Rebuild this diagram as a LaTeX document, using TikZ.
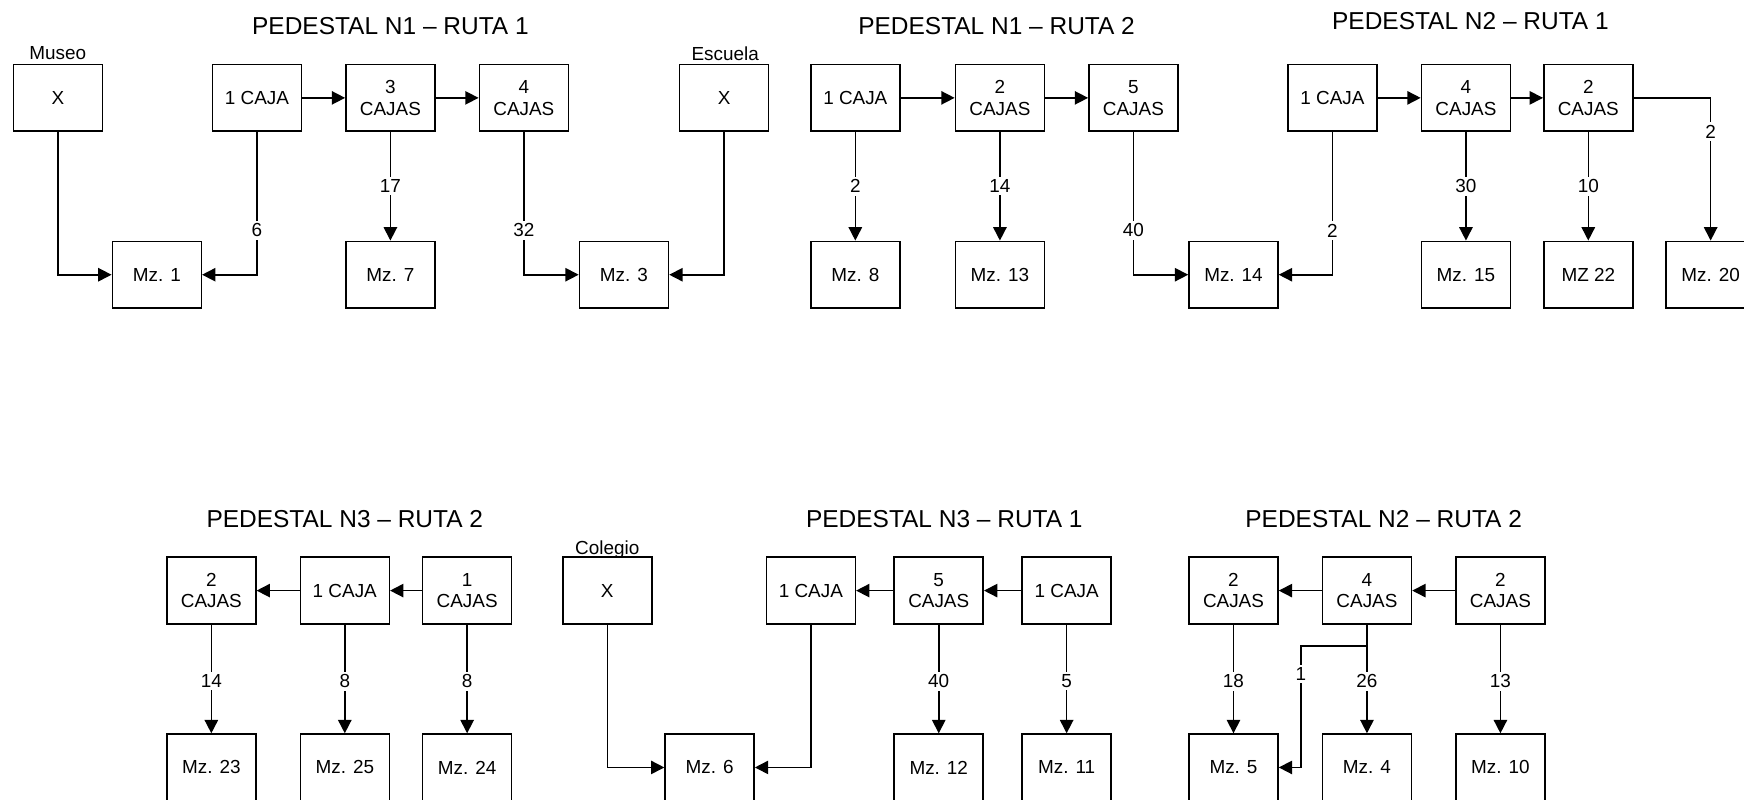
\documentclass[tikz,border=0pt]{standalone}
\usepackage{fontspec}
\setmainfont{Liberation Sans}
\usetikzlibrary{arrows.meta}
\begin{document}
\begin{tikzpicture}[x=0.5pt,y=0.5pt,
  caja/.style={draw=drawColor,line width=0.7pt,minimum width=40pt,minimum height=30pt,inner sep=0pt,align=center,font=\fontsize{8.5}{9.75}\selectfont},
  flecha/.style={draw=drawColor,line width=0.7pt,line join=miter,-{Triangle[length=6pt,width=6pt]}},
  cifra/.style={fill=white,inner sep=1.2pt,font=\fontsize{8.5}{9.75}\selectfont},
  lugar/.style={inner sep=0pt,text depth=0pt,font=\fontsize{8.5}{9.75}\selectfont},
  titulo/.style={inner sep=0pt,text depth=0pt,font=\fontsize{11}{13}\selectfont}]
\definecolor{fillColor}{RGB}{255,255,255}
\definecolor{drawColor}{RGB}{0,0,0}
\path[use as bounding box,fill=fillColor] (0,0) rectangle (1568,718.4);
\clip (0,0) rectangle (1568,718.4);

\node[titulo] (t1) at ( 351,695.5) {PEDESTAL N1 – RUTA 1};

\node[titulo] (t2) at ( 896,695.5) {PEDESTAL N1 – RUTA 2};

\node[titulo] (t3) at (1322,699.7) {PEDESTAL N2 – RUTA 1};

\node[titulo] (t4) at ( 310,251.9) {PEDESTAL N3 – RUTA 2};

\node[titulo] (t5) at ( 849,251.9) {PEDESTAL N3 – RUTA 1};

\node[titulo] (t6) at (1244,251.9) {PEDESTAL N2 – RUTA 2};

\node[lugar] (lmuseo) at (  52,670.4) {Museo};

\node[lugar] (lescuela) at ( 652,670.4) {Escuela};

\node[lugar] (lcolegio) at ( 546,225.8) {Colegio};

\node[caja] (museo) at (  52,630.4) {X};

\node[caja] (n1r1a) at ( 231,630.4) {1 CAJA};

\node[caja] (n1r1b) at ( 351,630.4) {3\\CAJAS};

\node[caja] (n1r1c) at ( 471,630.4) {4\\CAJAS};

\node[caja] (escuela) at ( 651,630.4) {X};

\node[caja] (n1r2a) at ( 769,630.4) {1 CAJA};

\node[caja] (n1r2b) at ( 899,630.4) {2\\CAJAS};

\node[caja] (n1r2c) at (1019,630.4) {5\\CAJAS};

\node[caja] (n2r1a) at (1198,630.4) {1 CAJA};

\node[caja] (n2r1b) at (1318,630.4) {4\\CAJAS};

\node[caja] (n2r1c) at (1428,630.4) {2\\CAJAS};

\node[caja] (mz1) at ( 141,471.4) {Mz. 1};

\node[caja] (mz7) at ( 351,471.4) {Mz. 7};

\node[caja] (mz3) at ( 561,471.4) {Mz. 3};

\node[caja] (mz8) at ( 769,471.4) {Mz. 8};

\node[caja] (mz13) at ( 899,471.4) {Mz. 13};

\node[caja] (mz14) at (1109,471.4) {Mz. 14};

\node[caja] (mz15) at (1318,471.4) {Mz. 15};

\node[caja] (mz22) at (1428,471.4) {MZ 22};

\node[caja] (mz20) at (1538,471.4) {Mz. 20};

\node[caja] (n3r2a) at ( 190,187.4) {2\\CAJAS};

\node[caja] (n3r2b) at ( 310,187.4) {1 CAJA};

\node[caja] (n3r2c) at ( 420,187.4) {1\\CAJAS};

\node[caja] (colegio) at ( 546,187.4) {X};

\node[caja] (n3r1a) at ( 729,187.4) {1 CAJA};

\node[caja] (n3r1b) at ( 844,187.4) {5\\CAJAS};

\node[caja] (n3r1c) at ( 959,187.4) {1 CAJA};

\node[caja] (n2r2a) at (1109,187.4) {2\\CAJAS};

\node[caja] (n2r2b) at (1229,187.4) {4\\CAJAS};

\node[caja] (n2r2c) at (1349,187.4) {2\\CAJAS};

\node[caja] (mz23) at ( 190, 28.4) {Mz. 23};

\node[caja] (mz25) at ( 310, 28.4) {Mz. 25};

\node[caja] (mz24) at ( 420, 28.4) {Mz. 24};

\node[caja] (mz6) at ( 638, 28.4) {Mz. 6};

\node[caja] (mz12) at ( 844, 28.4) {Mz. 12};

\node[caja] (mz11) at ( 959, 28.4) {Mz. 11};

\node[caja] (mz5) at (1109, 28.4) {Mz. 5};

\node[caja] (mz4) at (1229, 28.4) {Mz. 4};

\node[caja] (mz10) at (1349, 28.4) {Mz. 10};

\coordinate (ramal) at (1169.6,137.4);

\path[flecha] (n1r1a) -- (n1r1b);

\path[flecha] (n1r1b) -- (n1r1c);

\path[flecha] (n1r2a) -- (n1r2b);

\path[flecha] (n1r2b) -- (n1r2c);

\path[flecha] (n2r1a) -- (n2r1b);

\path[flecha] (n2r1b) -- (n2r1c);

\path[flecha] (n3r2b) -- (n3r2a);

\path[flecha] (n3r2c) -- (n3r2b);

\path[flecha] (n3r1b) -- (n3r1a);

\path[flecha] (n3r1c) -- (n3r1b);

\path[flecha] (n2r2b) -- (n2r2a);

\path[flecha] (n2r2c) -- (n2r2b);

\path[flecha] (museo.south) |- (mz1.west);

\path[flecha] (n1r1a.south) |- node[cifra,pos=0.345] {6} (mz1.east);

\path[flecha] (n1r1b) -- node[cifra] {17} (mz7);

\path[flecha] (n1r1c.south) |- node[cifra,pos=0.345] {32} (mz3.west);

\path[flecha] (escuela.south) |- (mz3.east);

\path[flecha] (n1r2a) -- node[cifra] {2} (mz8);

\path[flecha] (n1r2b) -- node[cifra] {14} (mz13);

\path[flecha] (n1r2c.south) |- node[cifra,pos=0.345] {40} (mz14.west);

\path[flecha] (n2r1a.south) |- node[cifra,pos=0.345] {2} (mz14.east);

\path[flecha] (n2r1b) -- node[cifra] {30} (mz15);

\path[flecha] (n2r1c) -- node[cifra] {10} (mz22);

\path[flecha] (n2r1c.east) -| node[cifra,pos=0.618] {2} (mz20.north);

\path[flecha] (n3r2a) -- node[cifra,pos=0.52] {14} (mz23);

\path[flecha] (n3r2b) -- node[cifra,pos=0.52] {8} (mz25);

\path[flecha] (n3r2c) -- node[cifra,pos=0.52] {8} (mz24);

\path[flecha] (colegio.south) |- (mz6.west);

\path[flecha] (n3r1a.south) |- (mz6.east);

\path[flecha] (n3r1b) -- node[cifra,pos=0.52] {40} (mz12);

\path[flecha] (n3r1c) -- node[cifra,pos=0.52] {5} (mz11);

\path[flecha] (n2r2a) -- node[cifra,pos=0.52] {18} (mz5);

\path[flecha] (n2r2b) -- node[cifra,pos=0.52] {26} (mz4);

\path[flecha] (n2r2b.south) |- (ramal) |- node[cifra,pos=0.115] {1} (mz5.east);

\path[flecha] (n2r2c) -- node[cifra,pos=0.52] {13} (mz10);
\end{tikzpicture}
\end{document}
